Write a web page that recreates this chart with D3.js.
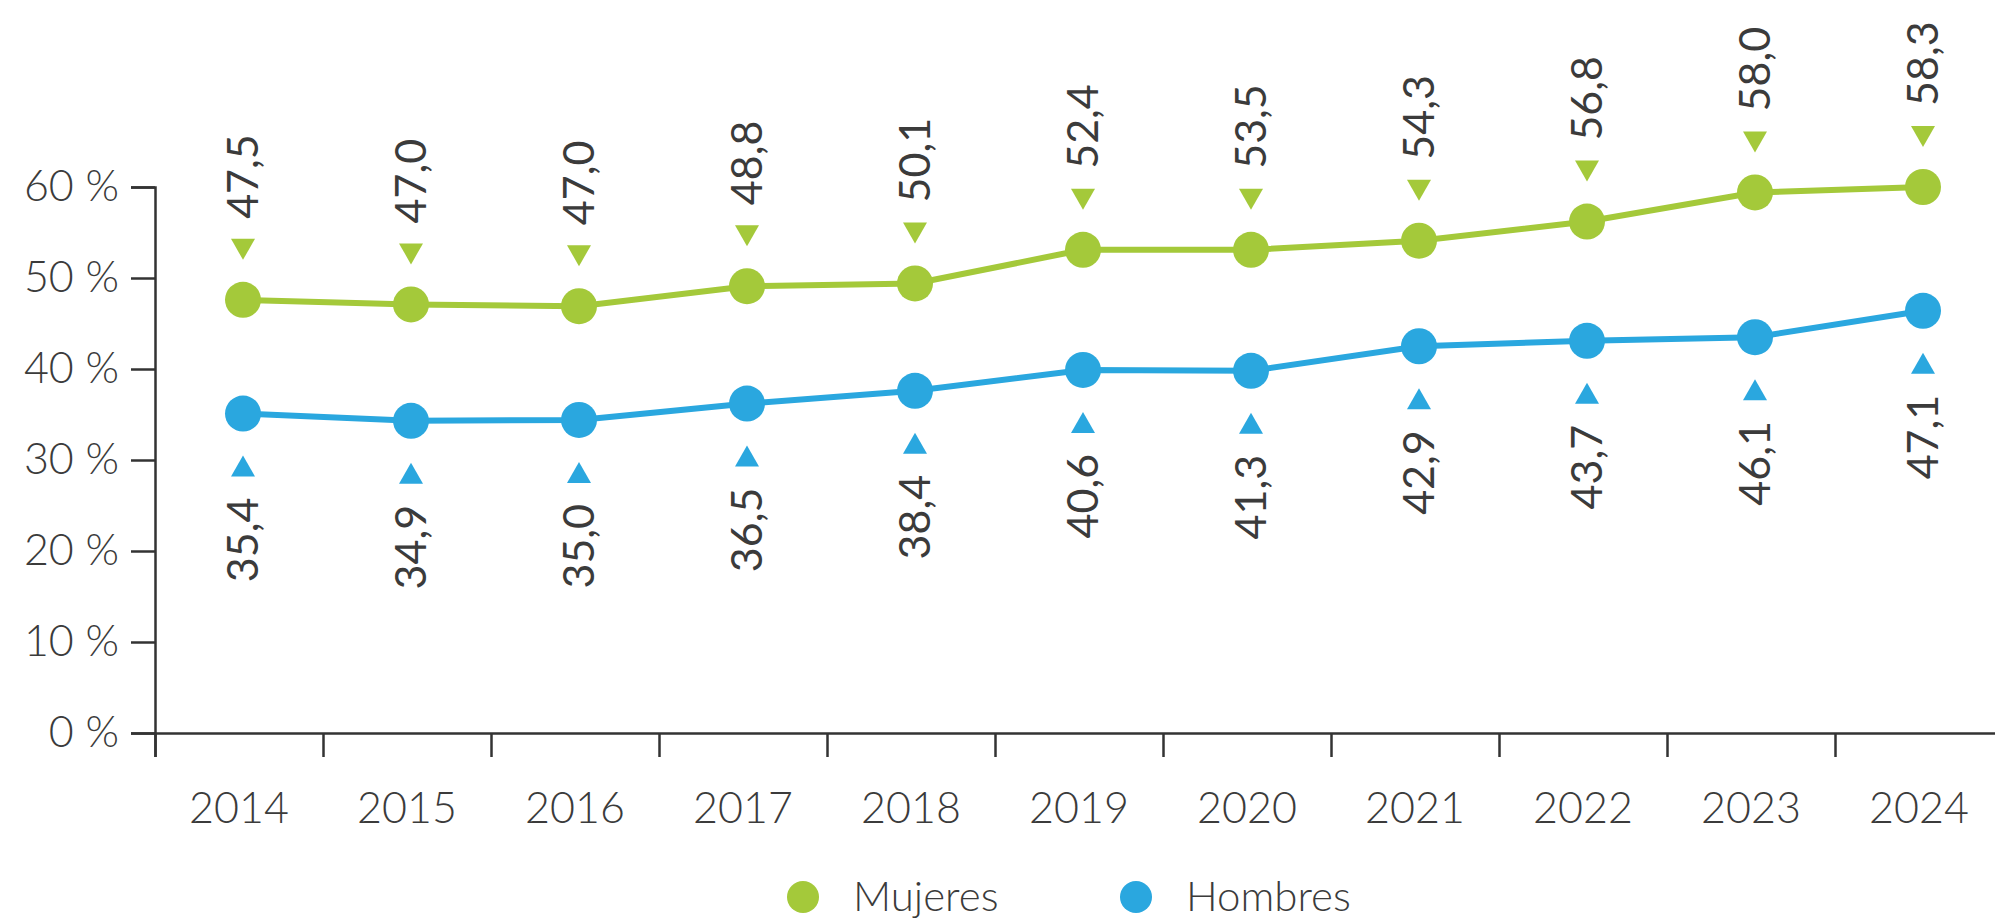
<!DOCTYPE html>
<html>
<head>
<meta charset="utf-8">
<script src="https://cdn.jsdelivr.net/npm/d3@7"></script>
<style>
  body { margin: 0; background: #fff; }
  text { font-family: Lato, "Open Sans", sans-serif; fill: #3b3b3b; }
</style>
</head>
<body>
<div id="chart"></div>
<script>
// Data
const years = ["2014", "2015", "2016", "2017", "2018", "2019", "2020", "2021", "2022", "2023", "2024"];
const mujeres = [47.6, 47.1, 46.9, 49.1, 49.4, 53.1, 53.1, 54.1, 56.2, 59.4, 60.0];
const hombres = [35.1, 34.3, 34.4, 36.2, 37.6, 39.9, 39.8, 42.5, 43.1, 43.5, 46.4];
const mujeresLabels = ["47,5", "47,0", "47,0", "48,8", "50,1", "52,4", "53,5", "54,3", "56,8", "58,0", "58,3"];
const hombresLabels = ["35,4", "34,9", "35,0", "36,5", "38,4", "40,6", "41,3", "42,9", "43,7", "46,1", "47,1"];
const yTicks = [0, 10, 20, 30, 40, 50, 60];

const width = 1995;
const height = 923;
const left = 155, step = 168, baseY = 733, topY = 187;
const green = "#a4c93a";
const blue = "#2aa7df";

const svg = d3.select("#chart").append("svg")
  .attr("width", width)
  .attr("height", height);

const x = d3.scaleBand()
  .domain(years)
  .range([left, left + years.length * step]);

// boundaries between years for the tick marks
const xEdge = d3.scaleLinear()
  .domain([0, years.length])
  .range([left, left + years.length * step]);

const y = d3.scaleLinear()
  .domain([0, 60])
  .range([baseY, topY]);

const cx = d => x(d) + x.bandwidth() / 2 + 4;

// axes
const yAxis = svg.append("g")
  .attr("transform", `translate(${left},0)`)
  .call(d3.axisLeft(y).tickValues(yTicks).tickSize(24).tickPadding(12)
    .tickFormat(d => d + " %"));

const xAxis = svg.append("g")
  .attr("transform", `translate(0,${baseY})`)
  .call(d3.axisBottom(xEdge).tickValues(d3.range(years.length + 1)).tickSize(24)
    .tickFormat(""));

svg.selectAll(".domain, .tick line")
  .attr("stroke", "#333")
  .attr("stroke-width", 2.5);

yAxis.selectAll("text")
  .attr("font-size", 43)
  .attr("font-weight", 300)
  .attr("fill", "#3b3b3b")
  .style("font-family", "Lato, sans-serif");

svg.append("g").selectAll("text")
  .data(years)
  .enter().append("text")
  .attr("x", d => x(d) + x.bandwidth() / 2)
  .attr("y", 823)
  .attr("text-anchor", "middle")
  .attr("font-size", 43)
  .attr("font-weight", 300)
  .text(d => d);

// series
const series = [
  { name: "Mujeres", values: mujeres, labels: mujeresLabels, color: green, above: true },
  { name: "Hombres", values: hombres, labels: hombresLabels, color: blue, above: false }
];

const line = d3.line()
  .x((d, i) => cx(years[i]))
  .y(d => y(d));

series.forEach(s => {
  const g = svg.append("g");

  g.append("path")
    .datum(s.values)
    .attr("d", line)
    .attr("fill", "none")
    .attr("stroke", s.color)
    .attr("stroke-width", 6);

  g.selectAll("circle")
    .data(s.values)
    .enter().append("circle")
    .attr("cx", (d, i) => cx(years[i]))
    .attr("cy", d => y(d))
    .attr("r", 18)
    .attr("fill", s.color);

  // small triangle pointing at the dot
  const tri = s.above ? "M-12,-10L12,-10L0,11Z" : "M-12,10L12,10L0,-11Z";
  g.selectAll(".tri")
    .data(s.values)
    .enter().append("path")
    .attr("class", "tri")
    .attr("d", tri)
    .attr("transform", (d, i) => `translate(${cx(years[i])},${y(d) + (s.above ? -51 : 53)})`)
    .attr("fill", s.color);

  g.selectAll(".lbl")
    .data(s.values)
    .enter().append("text")
    .attr("class", "lbl")
    .attr("transform", (d, i) => {
      const ty = y(d) + (s.above ? -81 : 84);
      return `translate(${cx(years[i])},${ty}) rotate(-90)`;
    })
    .attr("text-anchor", s.above ? "start" : "end")
    .attr("dy", "0.36em")
    .attr("font-size", 43)
    .attr("fill", "#404040")
    .text((d, i) => s.labels[i]);
});

// legend
const legend = svg.append("g").attr("transform", "translate(0,897)");
const legendX = [803, 1136];
series.forEach((s, i) => {
  legend.append("circle")
    .attr("cx", legendX[i])
    .attr("cy", 0)
    .attr("r", 16)
    .attr("fill", s.color);
  legend.append("text")
    .attr("x", legendX[i] + 50)
    .attr("y", 14)
    .attr("font-size", 42)
    .attr("font-weight", 300)
    .text(s.name);
});
</script>
</body>
</html>
